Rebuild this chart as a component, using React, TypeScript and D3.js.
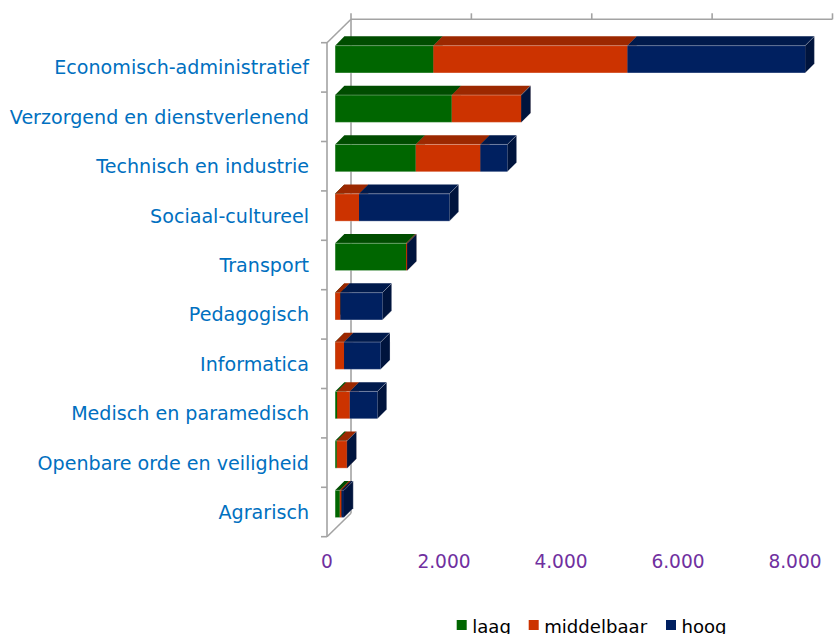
import React from "react";
import * as d3 from "d3";

const categories = [
  "Economisch-administratief",
  "Verzorgend en dienstverlenend",
  "Technisch en industrie",
  "Sociaal-cultureel",
  "Transport",
  "Pedagogisch",
  "Informatica",
  "Medisch en paramedisch",
  "Openbare orde en veiligheid",
  "Agrarisch",
];
const laag = [1665, 1977, 1367, 0, 1203, 0, 0, 34, 30, 80];
const middelbaar = [3288, 1174, 1094, 406, 15, 90, 152, 215, 170, 30];
const hoog = [3010, 5, 457, 1530, 5, 711, 621, 468, 5, 40];
const seriesNames = ["laag", "middelbaar", "hoog"];
const tickValues = [0, 2000, 4000, 6000, 8000];
const tickLabels = ["0", "2.000", "4.000", "6.000", "8.000"];

const colors = [
  { front: "#006600", top: "#004d00", side: "#003d00" },
  { front: "#cc3300", top: "#9c2800", side: "#7a1f00" },
  { front: "#002060", top: "#001a4c", side: "#00143d" },
];

const W = 837;
const H = 634;
const FONT = "'DejaVu Sans', Verdana, sans-serif";

export default function App() {
  const frontTop = 42.7;
  const frontBottom = 536.7;
  const frontX = 327;
  const wallDx = 24;
  const wallDy = 23.4;
  const barOff = 8.1; // depth offset of bar front face
  const barDepth = 9.3;
  const barH = 27.3;

  const y = d3.scaleBand<string>().domain(categories).range([frontTop, frontBottom]).paddingInner(0);
  const xFront = d3.scaleLinear().domain([0, 8000]).range([frontX, 795]);
  const xBack = d3.scaleLinear().domain([0, 8000]).range([frontX + wallDx, 832.5]);
  const xBar = d3.scaleLinear().domain([0, 8000]).range([frontX + barOff, 807.3]);

  const series = [laag, middelbaar, hoog];
  const stack = categories.map((c, i) => {
    let acc = 0;
    return series.map((s, k) => {
      const v0 = acc;
      acc += s[i];
      return { k, v0, v1: acc };
    });
  });

  const axisColor = "#a3a3a3";
  const backTopY = frontTop - wallDy;
  const gridBoundaries = d3.range(categories.length + 1).map((i) => frontTop + i * y.step());

  return (
    <svg width={W} height={H} style={{ position: "absolute", left: 0, top: 0 }}>
      <rect width={W} height={H} fill="#ffffff" />
      {/* walls / axes */}
      <g stroke={axisColor} strokeWidth={1.6} fill="none">
        <line x1={xBack(0)} y1={backTopY} x2={xBack(8000)} y2={backTopY} />
        {tickValues.map((t) => (
          <line key={t} x1={xBack(t)} y1={backTopY} x2={xBack(t)} y2={backTopY - 6} />
        ))}
        <line x1={xBack(0)} y1={backTopY} x2={xBack(0)} y2={frontBottom - wallDy} />
        <line x1={frontX} y1={frontTop} x2={frontX + wallDx} y2={backTopY} />
        <line x1={frontX} y1={frontBottom} x2={frontX + wallDx} y2={frontBottom - wallDy} />
        <line x1={frontX} y1={frontTop} x2={frontX} y2={frontBottom} />
        {gridBoundaries.map((gy, i) => (
          <line key={i} x1={frontX - 6} y1={gy} x2={frontX} y2={gy} />
        ))}
      </g>
      {/* bars */}
      {categories.map((c, i) => {
        const cy = (y(c) as number) + y.bandwidth() / 2 - barOff;
        const yt = cy - barH / 2;
        const yb = cy + barH / 2;
        const xEnd = xBar(stack[i][2].v1);
        return (
          <g key={c}>
            {stack[i].map((seg) => {
              const x0 = xBar(seg.v0);
              const x1 = xBar(seg.v1);
              const col = colors[seg.k];
              const d = barDepth;
              return (
                <g key={seg.k}>
                  <polygon
                    points={`${x0},${yt} ${x1},${yt} ${x1 + d},${yt - d} ${x0 + d},${yt - d}`}
                    fill={col.top}
                  />
                  <polygon
                    points={`${x1},${yt} ${x1 + d},${yt - d} ${x1 + d},${yb - d} ${x1},${yb}`}
                    fill={col.side}
                  />
                  <rect x={x0} y={yt} width={Math.max(0, x1 - x0)} height={barH} fill={col.front} />
                </g>
              );
            })}
            <polygon
              points={`${xBar(0)},${yt} ${xEnd},${yt} ${xEnd + barDepth},${yt - barDepth} ${xEnd + barDepth},${yb - barDepth} ${xEnd},${yb} ${xBar(0)},${yb}`}
              fill="none"
              stroke="#ffffff"
              strokeOpacity={0.35}
              strokeWidth={0.8}
            />
          </g>
        );
      })}
      {/* category labels */}
      {categories.map((c) => (
        <text
          key={c}
          x={309}
          y={(y(c) as number) + y.bandwidth() / 2 + 6.9}
          textAnchor="end"
          fontFamily={FONT}
          fontSize={19.1}
          fill="#0070c0"
        >
          {c}
        </text>
      ))}
      {/* value tick labels */}
      {tickValues.map((t, i) => (
        <text
          key={t}
          x={xFront(t)}
          y={568}
          textAnchor="middle"
          fontFamily={FONT}
          fontSize={18.6}
          fill="#7030a0"
        >
          {tickLabels[i]}
        </text>
      ))}
      {/* legend */}
      {seriesNames.map((n, k) => {
        const lx = [456.7, 528.7, 666][k];
        return (
          <g key={n}>
            <rect x={lx} y={620} width={10} height={10} fill={colors[k].front} />
            <text x={lx + 15.5} y={633.4} fontFamily={FONT} fontSize={18.1} fill="#000000">
              {n}
            </text>
          </g>
        );
      })}
    </svg>
  );
}
